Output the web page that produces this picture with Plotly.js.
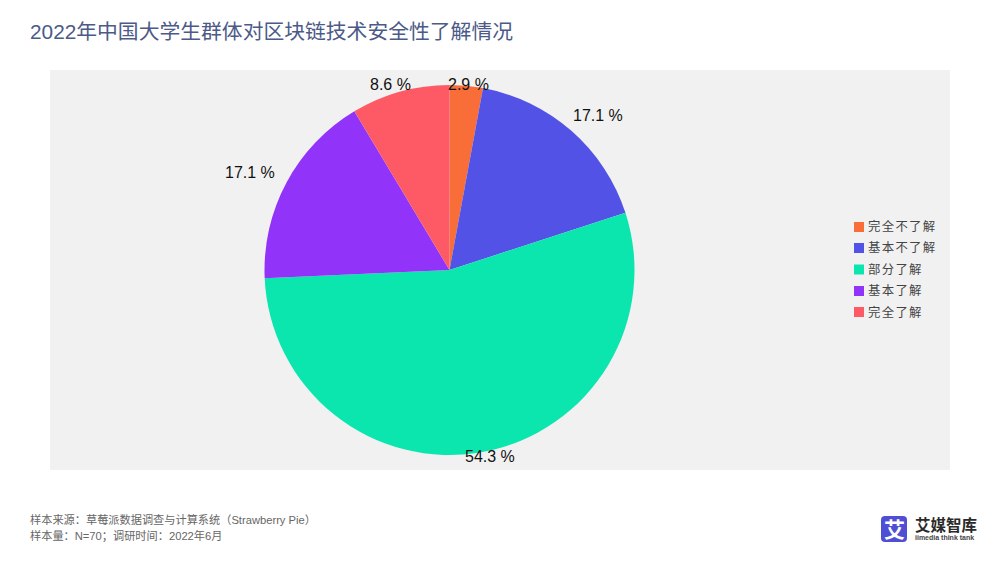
<!DOCTYPE html>
<html><head><meta charset="utf-8">
<script src="https://cdn.plot.ly/plotly-3.0.1.min.js"></script>
<style>html,body{margin:0;padding:0;background:#fff}#c{width:1000px;height:563px}</style></head>
<body><div id="c"></div>
<script>
const categories=['完全不了解','基本不了解','部分了解','基本了解','完全了解'];
const shares=[2.9,17.1,54.3,17.1,8.6];
const colors=['#F96D39','#5352E6','#0BE6AE','#9233F9','#FE5A66'];
const titleText='2022年中国大学生群体对区块链技术安全性了解情况';
const sourceLines=['样本来源：草莓派数据调查与计算系统（Strawberry Pie）','样本量：N=70；调研时间：2022年6月'];
const F='"Liberation Sans","Noto Sans CJK SC",sans-serif';
const W=1000,H=563;
const px=x=>x/W, py=y=>1-y/H;
const labelAnchors=[[468.5,85],[598,115],[489.5,456],[250,172],[390,85]];
const trace={type:'pie',labels:categories,values:shares,sort:false,direction:'clockwise',rotation:0,
 marker:{colors:colors,line:{width:0}},textinfo:'none',hoverinfo:'label+percent',showlegend:false,
 domain:{x:[px(449.5-185),px(449.5+185)],y:[py(270+185),py(270-185)]}};
const note=(x,y,text,size,color,anchor)=>({xref:'paper',yref:'paper',x:px(x),y:py(y),xanchor:anchor||'left',yanchor:'middle',align:'left',showarrow:false,text:text,font:{family:F,size:size,color:color}});
const box=(x0,y0,x1,y1,c)=>({type:'rect',xref:'paper',yref:'paper',x0:px(x0),x1:px(x1),y0:py(y1),y1:py(y0),fillcolor:c,line:{width:0}});
const legendRows=[227,248,269.5,291,312];
const shapes=[Object.assign(box(50,70,950,470,'#F1F1F1'),{layer:'below'})];
const annotations=[];
categories.forEach((c,i)=>{
 shapes.push(box(854,legendRows[i]-5,864,legendRows[i]+5,colors[i]));
 annotations.push(note(866,legendRows[i],c,12.4,'#444'));
 annotations.push(note(labelAnchors[i][0],labelAnchors[i][1],shares[i]+' %',16,'#111','center'));
});
sourceLines.forEach((t,i)=>annotations.push(note(28,519+16*i,t,11.2,'#666')));
const r=(a,b)=>a+' '+b;
shapes.push({type:'path',xref:'paper',yref:'paper',fillcolor:'#4F4FD6',line:{width:0},
 path:'M'+r(px(885),py(516))+' L'+r(px(903),py(516))+' Q'+r(px(907),py(516))+' '+r(px(907),py(520))+' L'+r(px(907),py(538))+' Q'+r(px(907),py(542))+' '+r(px(903),py(542))+' L'+r(px(885),py(542))+' Q'+r(px(881),py(542))+' '+r(px(881),py(538))+' L'+r(px(881),py(520))+' Q'+r(px(881),py(516))+' '+r(px(885),py(516))+' Z'});
annotations.push(note(894,529,'<b>艾</b>',21,'#fff','center'));
annotations.push(note(913,525,'<b>艾媒智库</b>',15.5,'#2a2a2a'));
annotations.push(note(913,537.5,'<b>iimedia think tank</b>',7,'#444'));
const layout={width:W,height:H,margin:{l:0,r:0,t:0,b:0},paper_bgcolor:'#fff',font:{family:F},showlegend:false,
 title:{text:titleText,font:{family:F,size:20.8,color:'#4C5A88'},x:px(30),xanchor:'left',y:py(32),yanchor:'middle'},
 shapes:shapes,annotations:annotations};
Plotly.newPlot('c',[trace],layout,{displayModeBar:false,staticPlot:true}).then(()=>{
 document.querySelectorAll('.annotation-text').forEach(t=>{
  if(categories.includes(t.textContent)) t.style.letterSpacing='1.3px';
 });
});
</script></body></html>
